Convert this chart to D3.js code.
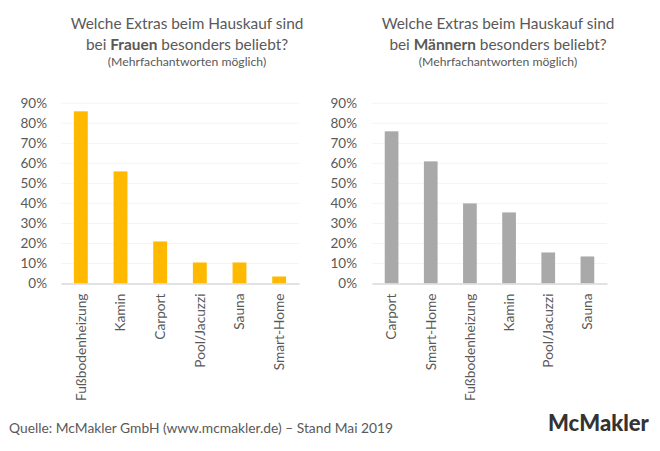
<!DOCTYPE html>
<html>
<head>
<meta charset="utf-8">
<script src="https://cdnjs.cloudflare.com/ajax/libs/d3/7.8.5/d3.min.js"></script>
<style>
  html, body { margin: 0; padding: 0; background: #fff; }
  svg { display: block; }
  text { font-family: Lato, "Open Sans", sans-serif; fill: #595959; }
</style>
</head>
<body>
<svg id="chart" width="660" height="451"></svg>
<script>
var tickValues = [0, 10, 20, 30, 40, 50, 60, 70, 80, 90];

var frauenCategories = ['Fußbodenheizung', 'Kamin', 'Carport', 'Pool/Jacuzzi', 'Sauna', 'Smart-Home'];
var frauenValues = [86, 56, 21, 10.5, 10.5, 3.5];

var maennerCategories = ['Carport', 'Smart-Home', 'Fußbodenheizung', 'Kamin', 'Pool/Jacuzzi', 'Sauna'];
var maennerValues = [76, 61, 40, 35.5, 15.5, 13.5];

var svg = d3.select('#chart');

function drawPanel(opts) {
  var y = d3.scaleLinear().domain([0, 90]).range([283.5, 103.3]);
  var x = d3.scaleBand()
    .domain(opts.categories)
    .range([opts.left, opts.right])
    .paddingInner(0.65)
    .paddingOuter(0.325);

  var g = svg.append('g');

  // gridlines
  g.selectAll('.grid')
    .data(tickValues.slice(1))
    .enter().append('line')
    .attr('x1', opts.left)
    .attr('x2', opts.right)
    .attr('y1', function(d) { return y(d); })
    .attr('y2', function(d) { return y(d); })
    .attr('stroke', '#f4f4f4')
    .attr('stroke-width', 1);

  g.selectAll('.bar')
    .data(opts.values)
    .enter().append('rect')
    .attr('x', function(d, i) { return x(opts.categories[i]); })
    .attr('width', x.bandwidth())
    .attr('y', function(d) { return y(d); })
    .attr('height', function(d) { return y(0) - y(d); })
    .attr('fill', opts.color);

  var yAxis = d3.axisLeft(y)
    .tickValues(tickValues)
    .tickSize(0)
    .tickPadding(opts.left - opts.labelRight)
    .tickFormat(function(d) { return d + '%'; });

  var yG = g.append('g')
    .attr('transform', 'translate(' + opts.left + ',0)')
    .call(yAxis);
  yG.select('.domain').remove();
  yG.selectAll('text').style('font-size', '13.5px');

  var xAxis = d3.axisBottom(x).tickSize(0);
  var xG = g.append('g')
    .attr('transform', 'translate(0,' + y(0) + ')')
    .call(xAxis);
  xG.select('.domain').attr('stroke', '#d9d9d9').attr('stroke-width', 1.5);
  xG.selectAll('text')
    .attr('transform', 'rotate(-90)')
    .attr('text-anchor', 'end')
    .attr('x', -10)
    .attr('y', 0)
    .attr('dy', '0.35em')
    .style('font-size', '13.7px');

  // title block
  var title = svg.append('text')
    .attr('text-anchor', 'middle')
    .attr('x', opts.titleX)
    .style('font-size', '15.4px');
  title.append('tspan').attr('x', opts.titleX).attr('y', 29).text('Welche Extras beim Hauskauf sind');
  var second = title.append('tspan').attr('x', opts.titleX).attr('y', 50);
  second.append('tspan').text('bei ');
  second.append('tspan').style('font-weight', 700).text(opts.who);
  second.append('tspan').text(' besonders beliebt?');

  svg.append('text')
    .attr('text-anchor', 'middle')
    .attr('x', opts.titleX)
    .attr('y', 66)
    .style('font-size', '12.2px')
    .text('(Mehrfachantworten möglich)');
}

drawPanel({
  categories: frauenCategories, values: frauenValues, color: '#ffb900',
  left: 61, right: 299, labelRight: 47, titleX: 187, who: 'Frauen'
});
drawPanel({
  categories: maennerCategories, values: maennerValues, color: '#a9a9a9',
  left: 372, right: 607, labelRight: 357, titleX: 498, who: 'Männern'
});

svg.append('text')
  .attr('x', 9)
  .attr('y', 433)
  .style('font-size', '13.8px')
  .text('Quelle: McMakler GmbH (www.mcmakler.de) – Stand Mai 2019');

svg.append('text')
  .attr('x', 548)
  .attr('y', 431)
  .style('font-size', '22px')
  .style('font-weight', 900)
  .style('fill', '#333333')
  .text('McMakler');
</script>
</body>
</html>
